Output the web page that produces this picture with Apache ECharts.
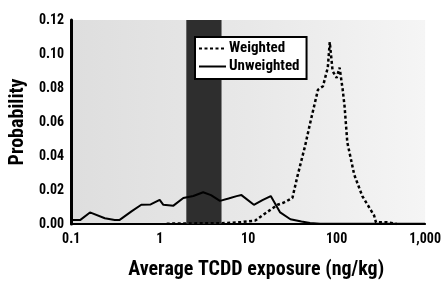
<!DOCTYPE html>
<html>
<head>
<meta charset="utf-8">
<script src="https://cdn.jsdelivr.net/npm/echarts@6/dist/echarts.min.js"></script>
<style>
  html, body { margin: 0; padding: 0; background: #fff; }
  #chart { width: 444px; height: 285px; }
</style>
</head>
<body>
<div id="chart"></div>
<script>
// exposure (ng/kg) and probability
const unweightedX = [0.1, 0.126, 0.163, 0.24, 0.31, 0.35, 0.48, 0.62, 0.79, 1.0, 1.1, 1.43, 1.85, 2.4, 3.1, 3.8, 4.8, 6.0, 7.4, 8.4, 11.6, 14.5, 18, 23, 30, 40, 50, 65, 100, 300, 1000]
const unweightedY = [0.0023, 0.0023, 0.0068, 0.0034, 0.0023, 0.0023, 0.0074, 0.0113, 0.0115, 0.0142, 0.0113, 0.0108, 0.0153, 0.0165, 0.0187, 0.0170, 0.0136, 0.0150, 0.0164, 0.0170, 0.0113, 0.0140, 0.0164, 0.0068, 0.0028, 0.0015, 0.0006, 0.0002, 0.0001, 0.0001, 0.0001]

const weightedX = [1.2, 3, 5, 8, 12, 15.1, 18, 21.5, 25.1, 31.6, 36, 44, 50, 61.5, 70, 79.4, 83.6, 90, 100, 108, 117, 123, 132, 158, 195, 265, 278, 370, 478]
const weightedY = [0.0002, 0.0004, 0.0005, 0.001, 0.002, 0.0057, 0.0085, 0.0113, 0.0125, 0.0153, 0.028, 0.046, 0.059, 0.079, 0.081, 0.092, 0.107, 0.09, 0.086, 0.092, 0.079, 0.069, 0.048, 0.029, 0.0164, 0.005, 0.001, 0.001, 0]

const bandRange = [2, 5]
const xTicks = [0.1, 1, 10, 100, 1000]

const font = '"Roboto Condensed", "Open Sans Condensed", sans-serif'

const chart = echarts.init(document.getElementById('chart'))

function zip(xs, ys) {
  return xs.map((x, i) => [x, ys[i]])
}

const option = {
  animation: false,
  grid: {
    left: 70,
    right: 14,
    top: 20,
    bottom: 53,
    show: true,
    borderWidth: 0,
    backgroundColor: {
      type: 'linear', x: 0, y: 0, x2: 1, y2: 0,
      colorStops: [
        { offset: 0, color: '#dedede' },
        { offset: 0.5, color: '#e8e8e8' },
        { offset: 1, color: '#f5f5f5' }
      ]
    }
  },
  legend: {
    orient: 'vertical',
    left: 195,
    top: 37,
    padding: [4, 7, 5, 3],
    itemGap: 3,
    itemWidth: 27,
    itemHeight: 12,
    backgroundColor: '#fff',
    borderColor: '#000',
    borderWidth: 2,
    itemStyle: { opacity: 0 },
    textStyle: { fontFamily: font, fontWeight: 'bold', fontSize: 15, color: '#000', padding: [0, 0, 0, -2] },
    data: ['Weighted', 'Unweighted']
  },
  xAxis: {
    type: 'log',
    logBase: 10,
    min: 0.1,
    max: 1000,
    name: 'Average TCDD exposure (ng/kg)',
    nameLocation: 'middle',
    nameGap: 36,
    nameTextStyle: { fontFamily: font, fontWeight: 'bold', fontSize: 20, color: '#000', padding: [0, 0, 0, 16] },
    axisLine: { lineStyle: { color: '#000', width: 2 } },
    axisTick: { show: false },
    splitLine: { show: false },
    minorTick: { show: false },
    axisLabel: {
      margin: 8,
      fontFamily: font, fontWeight: 'bold', fontSize: 14, color: '#000',
      formatter: v => xTicks.includes(+v) ? (+v).toLocaleString('en-US') : ''
    }
  },
  yAxis: {
    type: 'value',
    min: 0,
    max: 0.12,
    interval: 0.02,
    name: 'Probability',
    nameLocation: 'middle',
    nameGap: 41,
    nameTextStyle: { fontFamily: font, fontWeight: 'bold', fontSize: 20, color: '#000' },
    axisLine: { show: true, lineStyle: { color: '#000', width: 3 } },
    axisTick: { show: false },
    splitLine: { show: false },
    axisLabel: {
      margin: 7,
      fontFamily: font, fontWeight: 'bold', fontSize: 14, color: '#000',
      formatter: v => v.toFixed(2)
    }
  },
  series: [
    {
      name: 'Weighted',
      type: 'line',
      symbol: 'none',
      z: 4,
      color: '#000',
      lineStyle: { color: '#000', width: 2.5, type: [3, 2.5] },
      data: zip(weightedX, weightedY),
      markArea: {
        silent: true,
        itemStyle: { color: '#2e2e2e' },
        data: [[{ xAxis: bandRange[0] }, { xAxis: bandRange[1] }]]
      }
    },
    {
      name: 'Unweighted',
      type: 'line',
      symbol: 'none',
      z: 3,
      color: '#000',
      lineStyle: { color: '#000', width: 2 },
      data: zip(unweightedX, unweightedY)
    }
  ]
}

chart.setOption(option)
</script>
</body>
</html>
